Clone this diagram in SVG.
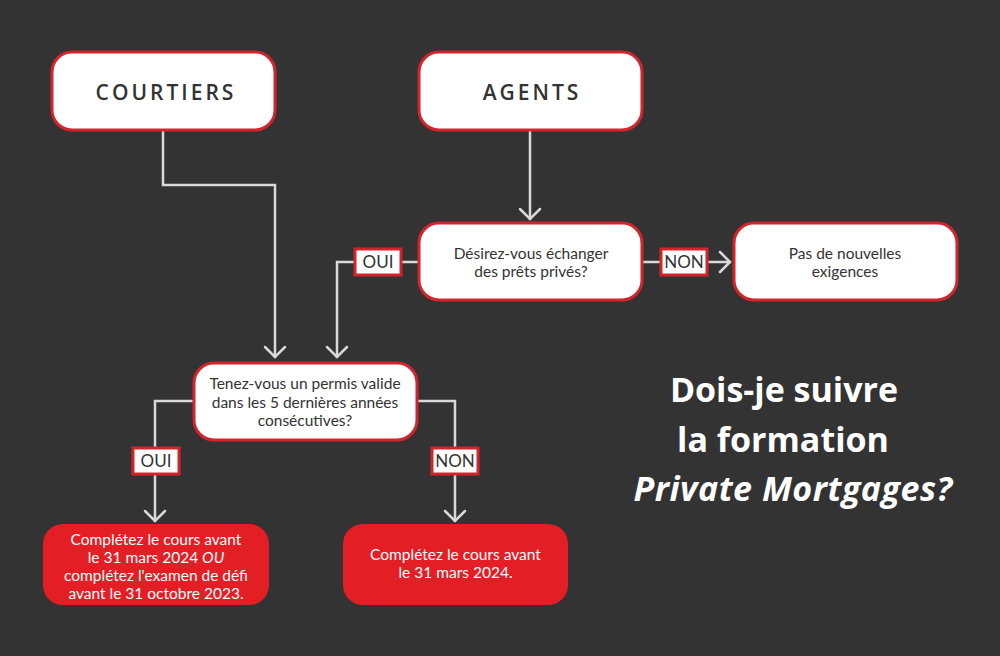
<svg xmlns="http://www.w3.org/2000/svg" width="1000" height="656" viewBox="0 0 1000 656">
  <defs>
    <marker id="arr" markerUnits="userSpaceOnUse" markerWidth="30" markerHeight="30" viewBox="-15 -15 30 30" refX="0" refY="0" orient="auto">
      <path d="M-11,-10 L-1,0 L-11,10" fill="none" stroke="#d9d9d9" stroke-width="2.5" stroke-linecap="round" stroke-linejoin="miter"/>
    </marker>
    <style>
      .wbox { fill: #ffffff; stroke: #d4242b; stroke-width: 3; }
      .rbox { fill: #e31e25; }
      .lbl { fill: #ffffff; stroke: #d4242b; stroke-width: 3; }
      .conn { fill: none; stroke: #d9d9d9; stroke-width: 2.5; }
      .head { font-family: "Open Sans", "DejaVu Sans", sans-serif; font-size: 21px; font-weight: 600; fill: #333333; letter-spacing: 3px; text-anchor: middle; }
      .body { font-family: Lato, "Open Sans", sans-serif; font-size: 15.5px; fill: #333333; text-anchor: middle; }
      .wbody { font-family: Lato, "Open Sans", sans-serif; font-size: 15.5px; fill: #ffffff; text-anchor: middle; }
      .tag { font-family: Lato, "Open Sans", sans-serif; font-size: 17px; fill: #333333; text-anchor: middle; }
      .title { font-family: "Open Sans", "DejaVu Sans", sans-serif; font-size: 34px; font-weight: 700; fill: #ffffff; text-anchor: middle; }
    </style>
  </defs>
  <rect x="0" y="0" width="1000" height="656" fill="#333333"/>

  <g id="connectors">
    <path class="conn" d="M163,131 V185 H275 V358" marker-end="url(#arr)"/>
    <path class="conn" d="M530,131 V220" marker-end="url(#arr)"/>
    <path class="conn" d="M418,262 H337 V358" marker-end="url(#arr)"/>
    <path class="conn" d="M643,262 H731" marker-end="url(#arr)"/>
    <path class="conn" d="M193,401 H155 V522" marker-end="url(#arr)"/>
    <path class="conn" d="M418,401 H455 V522" marker-end="url(#arr)"/>
  </g>

  <g id="courtiers">
    <rect class="wbox" x="52" y="52" width="223" height="78" rx="20"/>
    <text class="head" x="166" y="100">COURTIERS</text>
  </g>

  <g id="agents">
    <rect class="wbox" x="419" y="52" width="223" height="78" rx="20"/>
    <text class="head" x="532" y="100">AGENTS</text>
  </g>

  <g id="q-echanger">
    <rect class="wbox" x="419" y="223" width="223" height="77" rx="20"/>
    <text class="body" x="531" y="259">Désirez-vous échanger</text>
    <text class="body" x="531" y="277">des prêts privés?</text>
  </g>

  <g id="label-oui-1">
    <rect class="lbl" x="355" y="249" width="46" height="26"/>
    <text class="tag" x="378" y="268">OUI</text>
  </g>

  <g id="label-non-1">
    <rect class="lbl" x="661" y="249" width="46" height="26"/>
    <text class="tag" x="684" y="268">NON</text>
  </g>

  <g id="pas-nouvelles">
    <rect class="wbox" x="734" y="223" width="223" height="77" rx="20"/>
    <text class="body" x="845" y="259">Pas de nouvelles</text>
    <text class="body" x="845" y="277">exigences</text>
  </g>

  <g id="q-permis">
    <rect class="wbox" x="194" y="363" width="223" height="77" rx="20"/>
    <text class="body" x="305" y="389">Tenez-vous un permis valide</text>
    <text class="body" x="305" y="407.5">dans les 5 dernières années</text>
    <text class="body" x="305" y="426">consécutives?</text>
  </g>

  <g id="label-oui-2">
    <rect class="lbl" x="133" y="448" width="46" height="26"/>
    <text class="tag" x="156" y="467">OUI</text>
  </g>

  <g id="label-non-2">
    <rect class="lbl" x="432" y="448" width="46" height="26"/>
    <text class="tag" x="455" y="467">NON</text>
  </g>

  <g id="res-oui">
    <rect class="rbox" x="43" y="524" width="226" height="81" rx="20"/>
    <text class="wbody" x="156" y="545">Complétez le cours avant</text>
    <text class="wbody" x="156" y="563">le 31 mars 2024 <tspan font-style="italic">OU</tspan></text>
    <text class="wbody" x="156" y="581">complétez l'examen de défi</text>
    <text class="wbody" x="156" y="599">avant le 31 octobre 2023.</text>
  </g>

  <g id="res-non">
    <rect class="rbox" x="343" y="524" width="225" height="81" rx="20"/>
    <text class="wbody" x="455.5" y="560">Complétez le cours avant</text>
    <text class="wbody" x="455.5" y="578">le 31 mars 2024.</text>
  </g>

  <g id="title">
    <text class="title" x="784" y="402">Dois-je suivre</text>
    <text class="title" x="783" y="452">la formation</text>
    <text class="title" x="793" y="501" font-style="italic" font-size="36" letter-spacing="0.5">Private Mortgages?</text>
  </g>
</svg>
